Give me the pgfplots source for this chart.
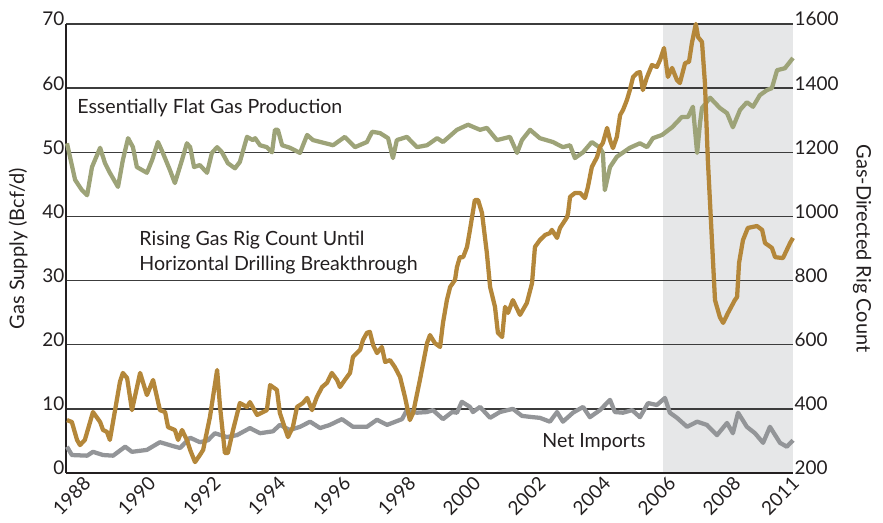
\documentclass[border=0pt]{standalone}
\usepackage{fontspec}
\setmainfont{Lato}
\usepackage{pgfplots}
\pgfplotsset{compat=1.18}
\usetikzlibrary{calc}
\definecolor{prodgreen}{HTML}{9DA378}
\definecolor{riggold}{HTML}{B4873A}
\definecolor{impgrey}{HTML}{939598}
\definecolor{shadegrey}{HTML}{E6E7E8}
\definecolor{ink}{HTML}{231F20}
\definecolor{gridc}{HTML}{3C3C3C}

\pgfplotsset{
  common/.style={
    scale only axis, width=545.25pt, height=336.75pt,
    xmin=1988, xmax=2010.37,
    major tick length=0pt,
    clip=false,
    tick label style={font=\fontsize{14.2}{15}\selectfont, text=ink},
    label style={font=\fontsize{15}{16}\selectfont, text=ink},
    /pgf/number format/assume math mode=true,
    /pgf/number format/1000 sep={},
  },
}

\begin{document}
\begin{tikzpicture}
\begin{axis}[common, name=ax, set layers,
  ymin=0, ymax=70, ytick={0,10,20,30,40,50,60,70},
  axis x line*=bottom, axis y line*=left,
  axis line style={-, ink, line width=1.1pt},
  x axis line style={line width=1.5pt},
  ymajorgrids, grid style={gridc, line width=1pt},
  xtick={1988.5,1990.5,1992.5,1994.5,1996.5,1998.5,2000.5,2002.5,2004.5,2006.5,2008.5,2010.3},
  xticklabels={1988,1990,1992,1994,1996,1998,2000,2002,2004,2006,2008,2011},
  xticklabel style={rotate=45, anchor=north east, inner sep=1pt},
  yticklabel style={anchor=base east, inner sep=1pt, yshift=-1.5pt},
  ylabel={Gas Supply (Bcf/d)},
  ylabel style={at={(axis description cs:-0.066,0.5)}, anchor=center},
]
% shaded period
\addplot[fill=shadegrey, draw=none, on layer=axis background] coordinates {(2006.37,70) (2010.37,70)} \closedcycle;

% net imports
\addplot[impgrey, line width=3.2pt, line join=round] coordinates {
(1988.03,4.1) (1988.18,2.8) (1988.65,2.7) (1988.83,3.3) (1989.14,2.8) (1989.45,2.7)
(1989.82,4.1) (1990.03,3.3) (1990.49,3.6) (1990.89,4.8) (1991.29,4.2) (1991.51,3.9)
(1991.82,5.5) (1992.12,4.8) (1992.37,5.1) (1992.58,6.2) (1992.95,5.6) (1993.26,5.9)
(1993.66,7.0) (1993.97,6.2) (1994.37,6.5) (1994.58,7.5) (1994.89,6.7) (1995.20,7.2)
(1995.51,8.0) (1995.82,7.0) (1996.12,7.5) (1996.49,8.4) (1996.83,7.2) (1997.26,7.2)
(1997.57,8.3) (1997.88,7.5) (1998.34,8.4) (1998.49,9.8) (1998.80,9.4) (1999.11,9.5)
(1999.29,9.8) (1999.60,8.4) (1999.88,9.5) (2000.03,9.4) (2000.18,11.1) (2000.43,10.3)
(2000.52,9.5) (2000.74,10.3) (2001.05,8.6) (2001.35,9.5) (2001.75,10.0) (2002.03,8.9)
(2002.37,8.7) (2002.58,8.6) (2002.89,8.0) (2003.11,9.5) (2003.29,8.0) (2003.60,9.4)
(2003.91,10.3) (2004.12,8.7) (2004.43,9.8) (2004.74,11.4) (2004.89,9.5) (2005.14,9.4)
(2005.42,9.8) (2005.66,8.7) (2005.91,10.9) (2006.18,10.6) (2006.43,11.7) (2006.58,9.4)
(2006.80,8.6) (2007.11,7.2) (2007.42,8.0) (2007.72,7.5) (2008.03,5.9) (2008.34,7.8)
(2008.52,6.2) (2008.68,9.4) (2008.95,7.2) (2009.20,6.2) (2009.45,4.7) (2009.66,7.2)
(2009.97,4.7) (2010.18,4.1) (2010.37,5.1)
};

% dry gas production
\addplot[prodgreen, line width=3.2pt, line join=round] coordinates {
(1988.03,51.4) (1988.28,45.7) (1988.49,44.1) (1988.65,43.3) (1988.80,47.7) (1989.05,50.7)
(1989.20,48.3) (1989.35,46.8) (1989.60,44.6) (1989.75,48.8) (1989.91,52.2) (1990.06,50.8)
(1990.18,47.7) (1990.49,46.8) (1990.65,48.8) (1990.83,51.6) (1990.98,49.9) (1991.20,47.2)
(1991.35,45.2) (1991.57,48.8) (1991.72,51.4) (1991.82,50.8) (1991.94,47.7) (1992.12,48.0)
(1992.34,46.8) (1992.49,49.9) (1992.65,50.8) (1992.80,50.0) (1992.98,48.3) (1993.20,47.5)
(1993.35,48.5) (1993.57,52.4) (1993.75,51.9) (1993.82,52.2) (1993.97,51.1) (1994.18,50.8)
(1994.34,50.0) (1994.43,53.5) (1994.52,53.5) (1994.65,51.1) (1994.89,50.7) (1995.20,49.9)
(1995.42,52.7) (1995.60,51.9) (1996.22,51.1) (1996.58,52.4) (1996.89,50.8) (1997.26,51.6)
(1997.42,53.2) (1997.66,53.0) (1997.91,52.2) (1998.06,49.1) (1998.18,51.9) (1998.49,52.4)
(1998.80,50.8) (1999.11,51.1) (1999.42,52.2) (1999.60,51.6) (2000.03,53.5) (2000.37,54.3)
(2000.74,53.5) (2000.95,53.8) (2001.26,51.9) (2001.66,52.4) (2001.88,49.9) (2002.03,51.9)
(2002.28,53.5) (2002.58,52.2) (2002.98,51.6) (2003.29,50.8) (2003.51,51.1) (2003.66,49.1)
(2003.91,50.0) (2004.18,51.6) (2004.43,50.7) (2004.52,49.9) (2004.58,44.1) (2004.74,47.7)
(2004.95,49.3) (2005.35,50.7) (2005.66,51.4) (2005.88,50.8) (2006.06,52.2) (2006.34,52.7)
(2006.65,53.9) (2006.95,55.5) (2007.14,55.5) (2007.29,57.1) (2007.42,49.9) (2007.51,54.6)
(2007.57,56.9) (2007.82,58.5) (2008.12,56.9) (2008.34,56.1) (2008.52,53.9) (2008.74,56.6)
(2008.95,57.8) (2009.14,57.1) (2009.35,58.9) (2009.57,59.7) (2009.72,60.0) (2009.88,62.8)
(2010.12,63.1) (2010.37,64.7)
};

\node[anchor=west, inner sep=0pt, text=ink, font=\fontsize{14.7}{15}\selectfont] at (axis cs:1988.34,56.9) {Essentially Flat Gas Production};
\node[anchor=west, inner sep=0pt, align=left, text=ink, font=\fontsize{14.7}{18.75}\selectfont] at (axis cs:1990.25,34.3) {Rising Gas Rig Count Until\\Horizontal Drilling Breakthrough};
\node[anchor=west, inner sep=0pt, text=ink, font=\fontsize{14.7}{15}\selectfont] at (axis cs:2002.65,4.8) {Net Imports};
\end{axis}

\begin{axis}[common,
  ymin=200, ymax=1600, ytick={200,400,600,800,1000,1200,1400,1600},
  hide x axis,
  axis y line*=right,
  y axis line style={draw=none},
  yticklabel style={anchor=base west, inner sep=1pt, yshift=-1.5pt},
  ylabel={Gas-Directed Rig Count},
  ylabel style={at={(axis description cs:1.095,0.5)}, anchor=center, rotate=180},
]
% gas-directed rig count
\addplot[riggold, line width=3.2pt, line join=round] coordinates {
(1988.03,365) (1988.18,359) (1988.34,303) (1988.43,287) (1988.58,303) (1988.83,390)
(1989.05,359) (1989.14,334) (1989.26,328) (1989.35,303) (1989.51,396) (1989.66,484)
(1989.75,512) (1989.88,496) (1990.03,396) (1990.28,512) (1990.49,443) (1990.68,490)
(1990.89,396) (1991.05,390) (1991.14,343) (1991.35,334) (1991.45,303) (1991.57,334)
(1991.72,303) (1991.82,272) (1991.97,234) (1992.12,256) (1992.22,272) (1992.43,375)
(1992.65,521) (1992.74,406) (1992.89,262) (1992.98,262) (1993.14,334) (1993.35,418)
(1993.57,406) (1993.66,421) (1993.88,381) (1994.18,396) (1994.28,474) (1994.49,459)
(1994.58,387) (1994.83,312) (1994.98,343) (1995.11,406) (1995.29,418) (1995.42,434)
(1995.57,396) (1995.72,437) (1995.88,468) (1996.03,481) (1996.18,512) (1996.34,490)
(1996.43,468) (1996.58,490) (1996.74,512) (1996.83,562) (1997.05,584) (1997.14,615)
(1997.26,637) (1997.35,640) (1997.45,599) (1997.57,574) (1997.72,593) (1997.82,546)
(1997.97,552) (1998.12,530) (1998.28,499) (1998.43,437) (1998.58,365) (1998.68,387)
(1998.89,490) (1999.11,605) (1999.20,630) (1999.35,605) (1999.51,593) (1999.60,668)
(1999.72,739) (1999.82,780) (1999.97,802) (2000.03,842) (2000.12,873) (2000.22,873)
(2000.34,905) (2000.43,958) (2000.58,1051) (2000.68,1051) (2000.80,1011) (2000.95,886)
(2001.05,780) (2001.20,718) (2001.29,637) (2001.42,624) (2001.51,718) (2001.60,699)
(2001.75,739) (2001.97,693) (2002.18,730) (2002.34,792) (2002.43,905) (2002.58,926)
(2002.74,942) (2002.89,948) (2002.95,958) (2003.11,933) (2003.20,964) (2003.42,998)
(2003.45,1011) (2003.51,1061) (2003.66,1073) (2003.82,1073) (2003.97,1057) (2004.06,1092)
(2004.18,1154) (2004.34,1185) (2004.43,1216) (2004.52,1229) (2004.65,1276) (2004.74,1238)
(2004.83,1213) (2004.95,1248) (2005.05,1316) (2005.14,1332) (2005.26,1363) (2005.35,1394)
(2005.45,1435) (2005.57,1447) (2005.66,1450) (2005.75,1394) (2005.88,1435) (2006.03,1472)
(2006.18,1466) (2006.28,1488) (2006.40,1525) (2006.52,1435) (2006.65,1463) (2006.80,1425)
(2006.89,1416) (2007.05,1478) (2007.17,1482) (2007.26,1541) (2007.38,1600) (2007.45,1559)
(2007.57,1544) (2007.66,1416) (2007.75,1176) (2007.88,917) (2007.97,739) (2008.12,686)
(2008.22,668) (2008.37,699) (2008.58,739) (2008.65,749) (2008.71,855) (2008.83,926)
(2008.98,964) (2009.26,970) (2009.42,958) (2009.51,917) (2009.72,902) (2009.82,873)
(2010.06,870) (2010.28,917) (2010.37,933)
};
\end{axis}
\pgfresetboundingbox
\path[use as bounding box] ($(ax.south west)+(-49.5pt,-37.5pt)$) rectangle ++(662.25pt,392.25pt);
\end{tikzpicture}
\end{document}
